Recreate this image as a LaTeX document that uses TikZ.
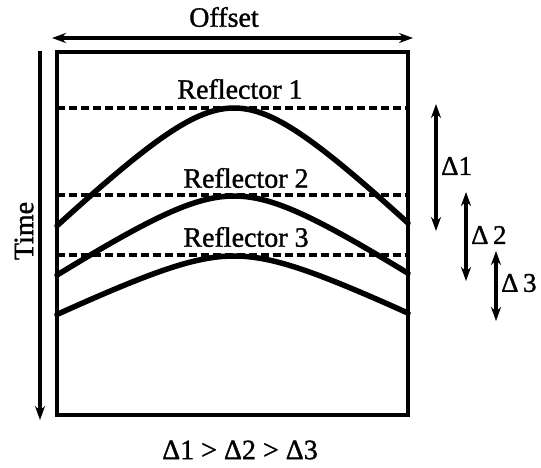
\documentclass[tikz,border=0pt]{standalone}
\usepackage{fontspec}
\setmainfont[FakeBold=1.2,BoldFont={Liberation Serif}]{Liberation Serif}
\usetikzlibrary{arrows.meta}
\begin{document}
\begin{tikzpicture}[x=1pt,y=-1pt,
  lbl/.style={font=\fontsize{28}{32}\selectfont, inner sep=0pt},
  dlbl/.style={font=\fontsize{27}{32}\selectfont, inner sep=0pt, anchor=west},
  dimarrow/.style={line width=3.2pt, {Stealth[length=14pt,width=10pt]}-{Stealth[length=14pt,width=10pt]}},
  onearrow/.style={line width=3.2pt, -{Stealth[length=14pt,width=10pt]}},
  refl/.style={line width=3.4pt, dash pattern=on 8pt off 4pt},
  curve/.style={line width=5.5pt, line cap=round, line join=round},
  frame/.style={line width=3.6pt}]
\useasboundingbox (0,0) rectangle (541,467);
% frame
\draw[frame] (57,52) rectangle (408,415);
% offset arrow
\coordinate (offL) at (52,38);
\coordinate (offR) at (413,38);
\draw[dimarrow] (offL) -- (offR);
\node[lbl] (offset) at (224,17) {Offset};
% time arrow
\coordinate (timeT) at (40,51);
\coordinate (timeB) at (40,420);
\draw[onearrow] (timeT) -- (timeB);
\node[lbl, rotate=90] (time) at (24,231) {Time};
% reflectors
\coordinate (r1L) at (57,108); \coordinate (r1R) at (408,108);
\coordinate (r2L) at (57,195); \coordinate (r2R) at (408,195);
\coordinate (r3L) at (57,255); \coordinate (r3R) at (408,255);
\draw[refl] (r1L) -- (r1R);
\draw[refl] (r2L) -- (r2R);
\draw[refl] (r3L) -- (r3R);
\node[lbl] (rl1) at (240,89) {Reflector 1};
\node[lbl] (rl2) at (246,178) {Reflector 2};
\node[lbl] (rl3) at (246,237) {Reflector 3};
% hyperbolas
\draw[curve] plot[domain=-177:174, samples=90] ({234+\x},{108+68.5*(sqrt(1+(\x/70)^2)-1)});
\draw[curve] plot[domain=-177:174, samples=90] ({234+\x},{196+46.0*(sqrt(1+(\x/70)^2)-1)});
\draw[curve] plot[domain=-177:174, samples=90] ({234+\x},{256+34.0*(sqrt(1+(\x/70)^2)-1)});
% delta arrows
\coordinate (d1T) at (436,104); \coordinate (d1B) at (436,231);
\coordinate (d2T) at (466,192); \coordinate (d2B) at (466,281);
\coordinate (d3T) at (496,251); \coordinate (d3B) at (496,321);
\draw[dimarrow] (d1T) -- (d1B);
\draw[dimarrow] (d2T) -- (d2B);
\draw[dimarrow] (d3T) -- (d3B);
\node[dlbl] (dl1) at (441,166) {Δ1};
\node[dlbl] (dl2) at (471,235) {Δ\,2};
\node[dlbl] (dl3) at (501,283) {Δ\,3};
% bottom
\node[lbl] (cmp) at (240,450) {Δ1 > Δ2 > Δ3};
\end{tikzpicture}
\end{document}
